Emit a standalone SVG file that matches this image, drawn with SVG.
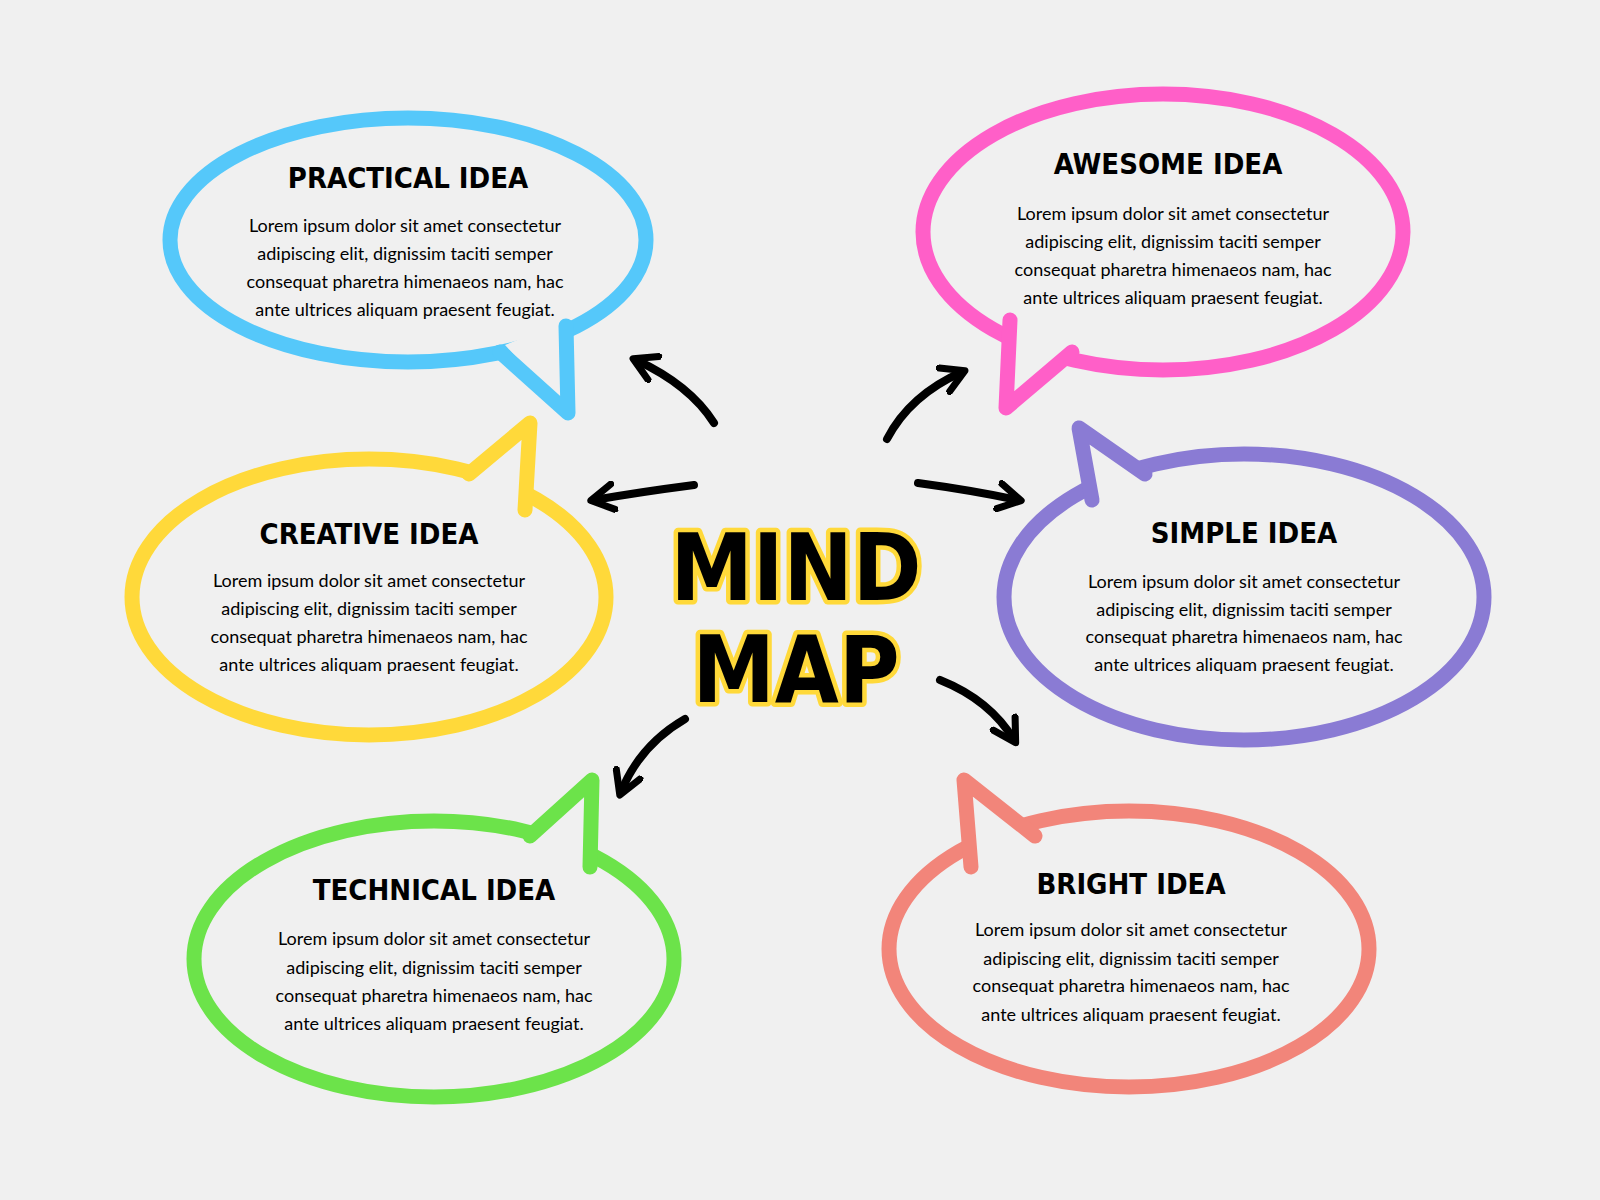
<svg xmlns="http://www.w3.org/2000/svg" width="1600" height="1200" viewBox="0 0 1600 1200">
<defs>
<marker id="ah" viewBox="0 0 10 10" refX="7" refY="5" markerWidth="4" markerHeight="4" orient="auto" markerUnits="strokeWidth">
<polyline points="1,1 8,5 1,9" fill="none" stroke="#000" stroke-width="2.2" stroke-linecap="round" stroke-linejoin="round"/>
</marker>
</defs>
<style>
.b{fill:none;stroke-width:15;stroke-linejoin:round;stroke-linecap:round}
.f{fill:#F0F0F0;stroke:none}
.t{font-family:"DejaVu Sans Condensed","DejaVu Sans",sans-serif;font-weight:bold;font-size:29px;text-anchor:middle;fill:#000}
.x{font-family:Lato,"Open Sans",sans-serif;font-size:18px;text-anchor:middle;fill:#000}
.a{fill:none;stroke:#000;stroke-width:8;stroke-linecap:round;marker-end:url(#ah)}
.m{font-family:"DejaVu Sans Condensed","DejaVu Sans",sans-serif;font-weight:bold;font-size:92px;text-anchor:middle;fill:#000;stroke:#FFD93A;stroke-width:9;paint-order:stroke;stroke-linejoin:round}
</style>
<rect width="1600" height="1200" fill="#F0F0F0"/>
<g id="practical">
<ellipse class="b" cx="408" cy="240" rx="238" ry="122" stroke="#55C8FA"/>
<polygon class="f" points="505,345 568,413 566,320"/>
<polyline class="b" points="500,352 568,413 566,326" stroke="#55C8FA"/>
<text class="t" x="408" y="188">PRACTICAL IDEA</text>
<text class="x" x="405" y="232">Lorem ipsum dolor sit amet consectetur</text>
<text class="x" x="405" y="260">adipiscing elit, dignissim taciti semper</text>
<text class="x" x="405" y="288">consequat pharetra himenaeos nam, hac</text>
<text class="x" x="405" y="316">ante ultrices aliquam praesent feugiat.</text>
</g>
<g id="awesome">
<ellipse class="b" cx="1163" cy="232" rx="240" ry="138" stroke="#FF5FC8"/>
<polygon class="f" points="1012,315 1006,408 1078,355"/>
<polyline class="b" points="1010,320 1006,408 1072,352" stroke="#FF5FC8"/>
<text class="t" x="1168" y="174">AWESOME IDEA</text>
<text class="x" x="1173" y="220">Lorem ipsum dolor sit amet consectetur</text>
<text class="x" x="1173" y="248">adipiscing elit, dignissim taciti semper</text>
<text class="x" x="1173" y="276">consequat pharetra himenaeos nam, hac</text>
<text class="x" x="1173" y="304">ante ultrices aliquam praesent feugiat.</text>
</g>
<g id="creative">
<ellipse class="b" cx="369" cy="597" rx="237" ry="138" stroke="#FFD93A"/>
<polygon class="f" points="466,480 530,423 526,516"/>
<polyline class="b" points="469,474 530,423 525,510" stroke="#FFD93A"/>
<text class="t" x="369" y="544">CREATIVE IDEA</text>
<text class="x" x="369" y="587">Lorem ipsum dolor sit amet consectetur</text>
<text class="x" x="369" y="615">adipiscing elit, dignissim taciti semper</text>
<text class="x" x="369" y="643">consequat pharetra himenaeos nam, hac</text>
<text class="x" x="369" y="671">ante ultrices aliquam praesent feugiat.</text>
</g>
<g id="simple">
<ellipse class="b" cx="1244" cy="597" rx="240" ry="143" stroke="#8A7BD4"/>
<polygon class="f" points="1092,508 1079,428 1150,480"/>
<polyline class="b" points="1092,500 1079,428 1145,474" stroke="#8A7BD4"/>
<text class="t" x="1244" y="543">SIMPLE IDEA</text>
<text class="x" x="1244" y="588">Lorem ipsum dolor sit amet consectetur</text>
<text class="x" x="1244" y="616">adipiscing elit, dignissim taciti semper</text>
<text class="x" x="1244" y="643">consequat pharetra himenaeos nam, hac</text>
<text class="x" x="1244" y="671">ante ultrices aliquam praesent feugiat.</text>
</g>
<g id="technical">
<ellipse class="b" cx="434" cy="959" rx="240" ry="138" stroke="#6CE34A"/>
<polygon class="f" points="526,842 592,780 591,873"/>
<polyline class="b" points="530,836 592,780 590,867" stroke="#6CE34A"/>
<text class="t" x="434" y="900">TECHNICAL IDEA</text>
<text class="x" x="434" y="945">Lorem ipsum dolor sit amet consectetur</text>
<text class="x" x="434" y="974">adipiscing elit, dignissim taciti semper</text>
<text class="x" x="434" y="1002">consequat pharetra himenaeos nam, hac</text>
<text class="x" x="434" y="1030">ante ultrices aliquam praesent feugiat.</text>
</g>
<g id="bright">
<ellipse class="b" cx="1129" cy="949" rx="240" ry="138" stroke="#F2857A"/>
<polygon class="f" points="970,875 964,780 1042,842"/>
<polyline class="b" points="971,867 964,780 1035,836" stroke="#F2857A"/>
<text class="t" x="1131" y="894">BRIGHT IDEA</text>
<text class="x" x="1131" y="936">Lorem ipsum dolor sit amet consectetur</text>
<text class="x" x="1131" y="965">adipiscing elit, dignissim taciti semper</text>
<text class="x" x="1131" y="992">consequat pharetra himenaeos nam, hac</text>
<text class="x" x="1131" y="1021">ante ultrices aliquam praesent feugiat.</text>
</g>
<g id="center">
<text class="m" x="796" y="600">MIND</text>
<text class="m" x="796" y="702">MAP</text>
</g>
<g id="connectors">
<path class="a" d="M714,423 Q690,385 636,360"/>
<path class="a" d="M694,485 Q640,492 594,500"/>
<path class="a" d="M887,439 Q910,395 962,372"/>
<path class="a" d="M918,483 Q970,490 1018,500"/>
<path class="a" d="M940,680 Q990,700 1014,740"/>
<path class="a" d="M685,719 Q640,745 621,792"/>
</g>
</svg>
